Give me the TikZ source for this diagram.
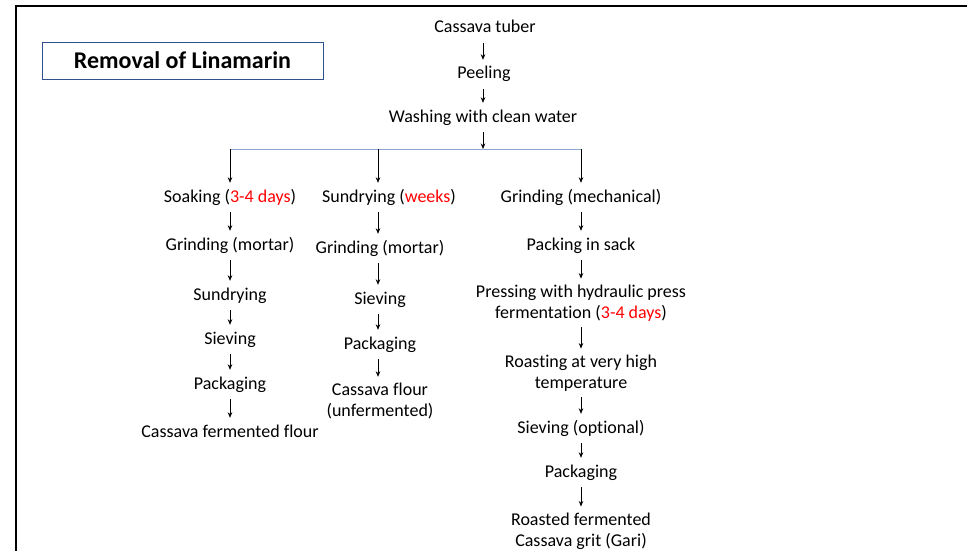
\documentclass[tikz,border=0pt]{standalone}
\usepackage{fontspec}
\setmainfont[RawFeature={-liga;-clig}]{Carlito}
\usetikzlibrary{arrows.meta}
\definecolor{titleblue}{RGB}{47,82,143}
\definecolor{branchblue}{RGB}{143,170,210}
\definecolor{hilite}{RGB}{255,0,0}
\tikzset{
  stepnode/.style={inner xsep=2pt, inner ysep=6pt, align=center, font=\fontsize{18}{21}\selectfont},
  oneline/.style={stepnode, text height=13pt, text depth=4pt},
  arr/.style={-{Stealth[length=5.5pt,width=4.5pt]}, line width=0.7pt},
  titlebox/.style={draw=titleblue, line width=0.8pt, minimum width=281pt, minimum height=37pt, inner sep=0pt, font=\fontsize{24}{28}\selectfont\bfseries},
  frame/.style={line width=2.3pt, black}
}
\newcommand{\red}[1]{\textcolor{hilite}{#1}}
\begin{document}
\begin{tikzpicture}[x=1pt,y=-1pt]
\useasboundingbox (0,0) rectangle (967,551);
\fill[white] (0,0) rectangle (967,551);
% frame
\draw[frame] (15,6.2) -- (967,6.2);
\draw[frame] (16,5) -- (16,551);
% title
\node[titlebox] (title) at (182.5,60.5) {Removal of Linamarin};
% column coordinates
\coordinate (T) at (483,149);
\coordinate (L) at (230,149);
\coordinate (M) at (378,149);
\coordinate (R) at (581,149);
% trunk
\node[oneline] (tuber) at (485,28.5) {Cassava tuber};
\node[oneline] (peel) at (484,74.5) {Peeling};
\node[oneline] (wash) at (483,117.5) {Washing with clean water};
% left column
\node[oneline] (soak) at (230,197.5) {Soaking (\red{3-4 days})};
\node[oneline] (grindL) at (230,245.5) {Grinding (mortar)};
\node[oneline] (sundryL) at (230,295.5) {Sundrying};
\node[oneline] (sieveL) at (230,339.5) {Sieving};
\node[oneline] (packL) at (230,384.5) {Packaging};
\node[oneline] (flourL) at (230,432.5) {Cassava fermented flour};
% middle column
\node[oneline] (sundryM) at (389,197.5) {Sundrying (\red{weeks})};
\node[oneline] (grindM) at (380,248.5) {Grinding (mortar)};
\node[oneline] (sieveM) at (380,299.5) {Sieving};
\node[oneline] (packM) at (380,344.5) {Packaging};
\node[stepnode] (flourM) at (380,401) {Cassava flour\\(unfermented)};
% right column
\node[oneline] (grindR) at (581,197.5) {Grinding (mechanical)};
\node[oneline] (sackR) at (581,245.5) {Packing in sack};
\node[stepnode] (pressR) at (581,303) {Pressing with hydraulic press\\fermentation (\red{3-4 days})};
\node[stepnode] (roastR) at (581,373) {Roasting at very high\\temperature};
\node[oneline] (sieveR) at (581,428.5) {Sieving (optional)};
\node[oneline] (packR) at (581,472.5) {Packaging};
\node[stepnode] (gariR) at (581,531) {Roasted fermented\\Cassava grit (Gari)};
% trunk arrows
\draw[arr] (T |- tuber.south) -- (T |- peel.north);
\draw[arr] (T |- peel.south) -- (T |- wash.north);
\draw[arr] (T |- wash.south) -- (T);
% branch line
\draw[branchblue, line width=0.8pt] (L) -- (R);
\draw[arr] (L) -- (L |- soak.north);
\draw[arr] (M) -- (M |- sundryM.north);
\draw[arr] (R) -- (R |- grindR.north);
% left arrows
\draw[arr] (L |- soak.south) -- (L |- grindL.north);
\draw[arr] (L |- grindL.south) -- (L |- sundryL.north);
\draw[arr] (L |- sundryL.south) -- (L |- sieveL.north);
\draw[arr] (L |- sieveL.south) -- (L |- packL.north);
\draw[arr] (L |- packL.south) -- (L |- flourL.north);
% middle arrows
\draw[arr] (M |- sundryM.south) -- (M |- grindM.north);
\draw[arr] (M |- grindM.south) -- (M |- sieveM.north);
\draw[arr] (M |- sieveM.south) -- (M |- packM.north);
\draw[arr] (M |- packM.south) -- (M |- flourM.north);
% right arrows
\draw[arr] (R |- grindR.south) -- (R |- sackR.north);
\draw[arr] (R |- sackR.south) -- (R |- pressR.north);
\draw[arr] (R |- pressR.south) -- (R |- roastR.north);
\draw[arr] (R |- roastR.south) -- (R |- sieveR.north);
\draw[arr] (R |- sieveR.south) -- (R |- packR.north);
\draw[arr] (R |- packR.south) -- (R |- gariR.north);
\end{tikzpicture}
\end{document}
